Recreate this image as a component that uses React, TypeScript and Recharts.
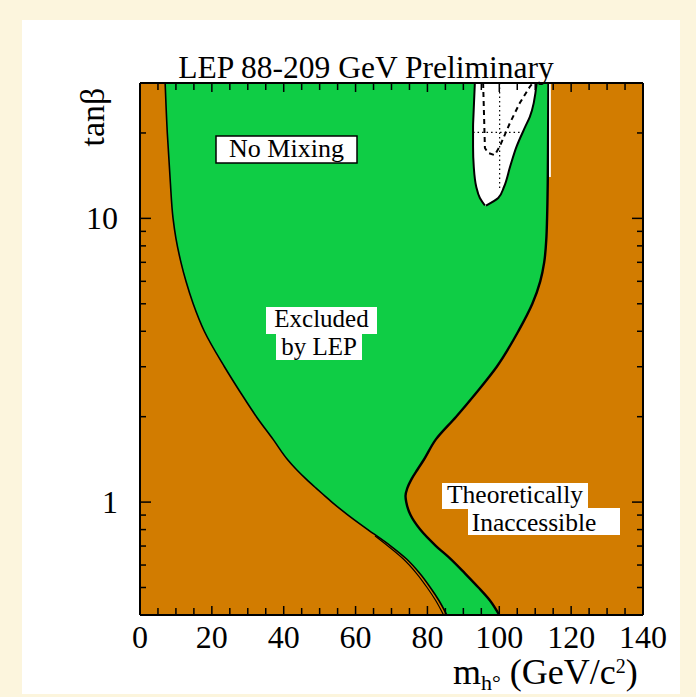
import React from 'react';
import { ComposedChart, Area, Line, XAxis, YAxis, CartesianGrid } from 'recharts';

// ---------- data ----------
// Excluded (green) region: left / right boundary masses (GeV) at each tanβ (top to bottom)
const tanBeta = [30, 20, 13.7, 10, 8.5, 7.0, 6.0, 5.0, 4.0, 3.0, 2.42, 2.0, 1.66, 1.41, 1.3, 1.2, 1.12, 1.05, 1.0, 0.9, 0.8, 0.7, 0.63, 0.56, 0.5, 0.45, 0.4];
const leftMass = [7.0, 7.6, 8.4, 9.2, 10.0, 11.4, 12.8, 14.8, 17.9, 23.5, 28.1, 32.4, 37.1, 41.1, 43.6, 46.4, 49.0, 51.5, 53.4, 57.9, 63.4, 69.8, 74.2, 77.9, 80.8, 83.2, 85.4];
const rightMass = [113.7, 113.6, 113.5, 113.3, 113.1, 112.5, 111.4, 109.2, 105.3, 99.3, 93.5, 88.0, 82.3, 79.0, 77.2, 75.5, 74.4, 73.9, 74.1, 75.3, 78.0, 82.4, 86.5, 90.5, 94.2, 97.4, 100.0];

// second (inner) edge line near the lower-left boundary
const edge2Tan = [0.76, 0.7, 0.63, 0.56, 0.5, 0.45, 0.4];
const edge2Mass = [65.4, 69.0, 73.3, 77.0, 79.9, 82.3, 84.5];

// white (not excluded) island near the top
const holeTan = [30, 22.8, 21.0, 17.9, 15.2, 12.9, 11.8, 11.1];
const holeLeft = [93.2, 92.8, 92.7, 92.7, 92.9, 93.6, 94.6, 96.0];
const holeRight = [110.4, 108.5, 107.2, 104.8, 103.0, 101.3, 99.7, 96.3];

// dashed expected-limit contour inside the island
const dashTan = [30, 22, 17.7, 17.0, 16.7, 17.9, 21.6, 25.5, 29.1, 30];
const dashMass = [95.5, 95.8, 96.0, 96.9, 98.7, 100.1, 102.9, 105.7, 108.5, 109.3];

// dotted cross-hair
const crossVTan = [30, 12.6];
const crossVMass = [100.1, 100.1];
const crossHTan = [20.1, 20.1];
const crossHMass = [92.7, 105.7];

// thin white strip along the right edge at the top
const stripTan = [30, 14.0];
const stripMass = [114.1, 114.1];

// axes
const xTicks = [0, 5, 10, 15, 20, 25, 30, 35, 40, 45, 50, 55, 60, 65, 70, 75, 80, 85, 90, 95, 100, 105, 110, 115, 120, 125, 130, 135, 140];
const xLabelled = [0, 20, 40, 60, 80, 100, 120, 140];
const yTicks = [0.5, 0.6, 0.7, 0.8, 0.9, 1, 2, 3, 4, 5, 6, 7, 8, 9, 10, 20];
const yLabelled = [1, 10];

// ---------- tables ----------
const greenRows = tanBeta.map((t, i) => ({ t, L: leftMass[i], R: rightMass[i] }));
const edge2Rows = edge2Tan.map((t, i) => ({ t, m: edge2Mass[i] }));
const holeRows = holeTan.map((t, i) => ({ t, L: holeLeft[i], R: holeRight[i] }));
const dashRows = dashTan.map((t, i) => ({ t, m: dashMass[i] }));
const crossVRows = crossVTan.map((t, i) => ({ t, m: crossVMass[i] }));
const crossHRows = crossHTan.map((t, i) => ({ t, m: crossHMass[i] }));
const stripRows = stripTan.map((t, i) => ({ t, m: stripMass[i] }));

const SERIF = '"Liberation Serif", "Times New Roman", Times, serif';
const ORANGE = '#d27c00';
const GREEN = '#0fcd45';

const BottomTick = (p: any) => {
  const { x, y, payload } = p;
  const v = payload.value;
  const lab = xLabelled.includes(v);
  return (
    <g>
      <line x1={x} y1={y} x2={x} y2={y - (lab ? 9 : 7)} stroke="#000" strokeWidth={1.5} />
      {lab && (
        <text x={x} y={y + 33} textAnchor="middle" fontFamily={SERIF} fontSize={32} fill="#000">
          {v}
        </text>
      )}
    </g>
  );
};

const TopTick = (p: any) => {
  const { x, y, payload } = p;
  const lab = xLabelled.includes(payload.value);
  return <line x1={x} y1={y} x2={x} y2={y + (lab ? 9 : 7)} stroke="#000" strokeWidth={1.5} />;
};

const LeftTick = (p: any) => {
  const { x, y, payload } = p;
  const v = payload.value;
  const lab = yLabelled.includes(v);
  return (
    <g>
      <line x1={x} y1={y} x2={x + (lab ? 11 : 6)} y2={y} stroke="#000" strokeWidth={1.5} />
      {lab && (
        <text x={x - 22} y={y + 11} textAnchor="end" fontFamily={SERIF} fontSize={32} fill="#000">
          {v}
        </text>
      )}
    </g>
  );
};

const RightTick = (p: any) => {
  const { x, y, payload } = p;
  const lab = yLabelled.includes(payload.value);
  return <line x1={x} y1={y} x2={x - (lab ? 11 : 6)} y2={y} stroke="#000" strokeWidth={1.5} />;
};

export default function App() {
  const W = 696;
  const H = 697;
  return (
    <div style={{ position: 'absolute', left: 0, top: 0, width: W, height: H, background: '#fcf5dd', overflow: 'hidden' }}>
      <div style={{ position: 'absolute', left: 22, top: 20, width: 658, height: 674, background: '#ffffff' }} />
      <div style={{ position: 'absolute', left: 0, top: 0 }}>
        <ComposedChart
          width={W}
          height={H}
          layout="vertical"
          data={greenRows}
          margin={{ top: 82, right: 52, bottom: 81, left: 139 }}
        >
          <CartesianGrid xAxisId="b" yAxisId="l" horizontal={false} vertical={false} fill={ORANGE} fillOpacity={1} stroke="none" />
          <Area
            xAxisId="b"
            yAxisId="l"
            type="monotone"
            dataKey={(d: any) => [d.L, d.R]}
            fill={GREEN}
            fillOpacity={1}
            stroke="none"
            isAnimationActive={false}
            dot={false}
            activeDot={false}
          />
          <Area
            xAxisId="b"
            yAxisId="l"
            data={holeRows}
            type="monotone"
            dataKey={(d: any) => [d.L, d.R]}
            fill="#ffffff"
            fillOpacity={1}
            stroke="#000"
            strokeWidth={2}
            isAnimationActive={false}
            dot={false}
            activeDot={false}
          />
          <Line xAxisId="b" yAxisId="l" type="monotone" dataKey="L" stroke="#000" strokeWidth={1.6} dot={false} activeDot={false} isAnimationActive={false} />
          <Line xAxisId="b" yAxisId="l" type="monotone" dataKey="R" stroke="#000" strokeWidth={2.4} dot={false} activeDot={false} isAnimationActive={false} />
          <Line xAxisId="b" yAxisId="l" data={edge2Rows} type="monotone" dataKey="m" stroke="#000" strokeWidth={1.2} dot={false} activeDot={false} isAnimationActive={false} />
          <Line xAxisId="b" yAxisId="l" data={stripRows} type="linear" dataKey="m" stroke="#ffffff" strokeWidth={1.8} dot={false} activeDot={false} isAnimationActive={false} />
          <Line xAxisId="b" yAxisId="l" data={dashRows} type="linear" dataKey="m" stroke="#000" strokeWidth={2} strokeDasharray="5 4" dot={false} activeDot={false} isAnimationActive={false} />
          <Line xAxisId="b" yAxisId="l" data={crossVRows} type="linear" dataKey="m" stroke="#000" strokeWidth={1.2} strokeDasharray="1.5 3" dot={false} activeDot={false} isAnimationActive={false} />
          <Line xAxisId="b" yAxisId="l" data={crossHRows} type="linear" dataKey="m" stroke="#000" strokeWidth={1.2} strokeDasharray="1.5 3" dot={false} activeDot={false} isAnimationActive={false} />

          <XAxis
            xAxisId="b"
            type="number"
            orientation="bottom"
            domain={[0, 140]}
            ticks={xTicks}
            interval={0}
            allowDataOverflow
            height={1}
            tickSize={0}
            tickMargin={0}
            tickLine={false}
            axisLine={{ stroke: '#000', strokeWidth: 2 }}
            tick={(p: any) => <BottomTick {...p} />}
          />
          <XAxis
            xAxisId="t"
            type="number"
            orientation="top"
            domain={[0, 140]}
            ticks={xTicks}
            interval={0}
            allowDataOverflow
            height={1}
            tickSize={0}
            tickMargin={0}
            tickLine={false}
            axisLine={{ stroke: '#000', strokeWidth: 2 }}
            tick={(p: any) => <TopTick {...p} />}
          />
          <YAxis
            yAxisId="l"
            type="number"
            dataKey="t"
            scale="log"
            reversed
            orientation="left"
            domain={[0.4, 30]}
            ticks={yTicks}
            interval={0}
            allowDataOverflow
            width={1}
            tickSize={0}
            tickMargin={0}
            tickLine={false}
            axisLine={{ stroke: '#000', strokeWidth: 2 }}
            tick={(p: any) => <LeftTick {...p} />}
          />
          <YAxis
            yAxisId="r"
            type="number"
            dataKey="t"
            scale="log"
            reversed
            orientation="right"
            domain={[0.4, 30]}
            ticks={yTicks}
            interval={0}
            allowDataOverflow
            width={1}
            tickSize={0}
            tickMargin={0}
            tickLine={false}
            axisLine={{ stroke: '#000', strokeWidth: 2 }}
            tick={(p: any) => <RightTick {...p} />}
          />
        </ComposedChart>
      </div>
      <svg
        width={W}
        height={H}
        style={{ position: 'absolute', left: 0, top: 0, pointerEvents: 'none' }}
        fontFamily={SERIF}
      >
        <text x={366} y={78} textAnchor="middle" fontSize={31.5} fill="#000">
          LEP 88-209 GeV Preliminary
        </text>
        <text transform="translate(104,117) rotate(-90)" textAnchor="middle" fontSize={34} fill="#000">
          tanβ
        </text>
        <text x={453} y={684} fontSize={36} fill="#000">
          m
          <tspan fontSize={22} dy={6}>h°</tspan>
          <tspan dy={-6}> (GeV/c</tspan>
          <tspan fontSize={20} dy={-11}>2</tspan>
          <tspan dy={11}>)</tspan>
        </text>

        <rect x={216} y={136} width={141} height={27} fill="#fff" stroke="#000" strokeWidth={1.5} />
        <text x={286.5} y={157} textAnchor="middle" fontSize={26} fill="#000">No Mixing</text>

        <rect x={266} y={307} width={111} height={27} fill="#fff" />
        <rect x={276} y={333} width={86} height={27} fill="#fff" />
        <text x={321.5} y={327} textAnchor="middle" fontSize={25} fill="#000">Excluded</text>
        <text x={319} y={355} textAnchor="middle" fontSize={25} fill="#000">by LEP</text>

        <rect x={442} y={483} width={146} height={26} fill="#fff" />
        <rect x={468} y={508} width={152} height={27} fill="#fff" />
        <text x={515} y={503} textAnchor="middle" fontSize={25.5} fill="#000">Theoretically</text>
        <text x={534} y={531} textAnchor="middle" fontSize={25.5} fill="#000">Inaccessible</text>
      </svg>
    </div>
  );
}
